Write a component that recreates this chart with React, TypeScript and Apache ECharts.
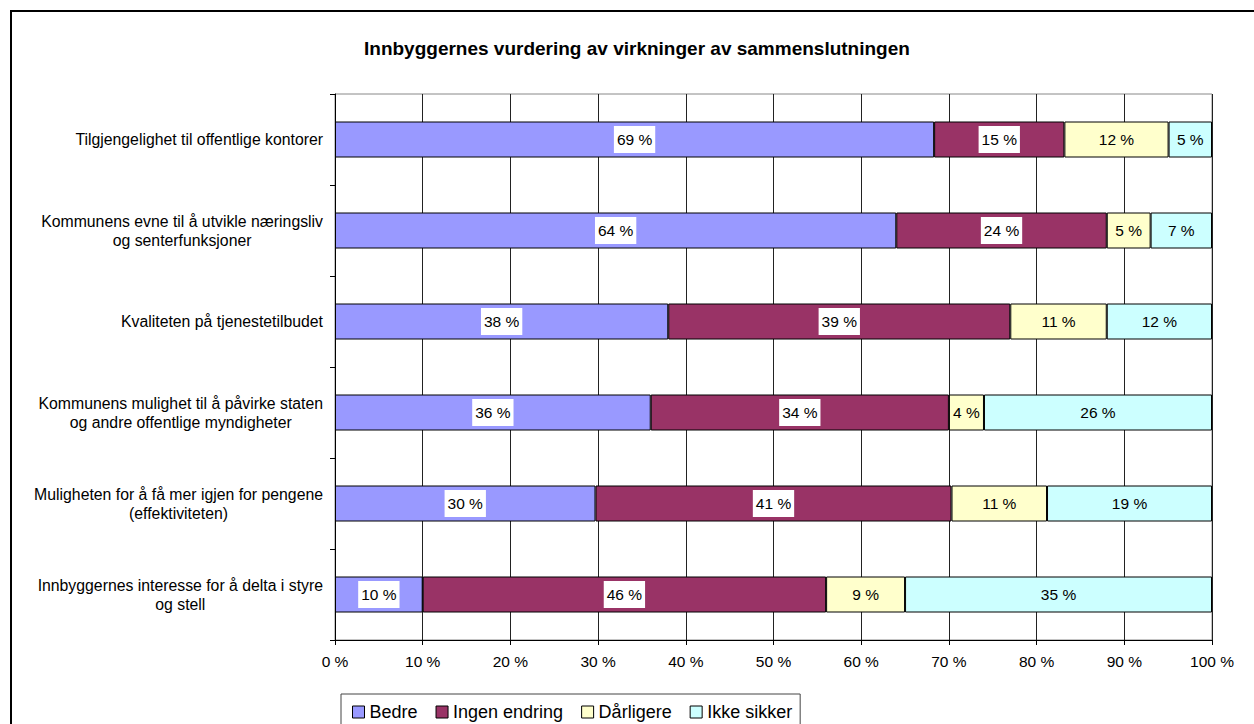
import React, { useEffect, useRef } from "react";
import * as echarts from "echarts";

const categories = [
  "Tilgjengelighet til offentlige kontorer",
  "Kommunens evne til å utvikle næringsliv\nog senterfunksjoner",
  "Kvaliteten på tjenestetilbudet",
  "Kommunens mulighet til å påvirke staten\nog andre offentlige myndigheter",
  "Muligheten for å få mer igjen for pengene\n(effektiviteten)",
  "Innbyggernes interesse for å delta i styre\nog stell",
];

const seriesNames = ["Bedre", "Ingen endring", "Dårligere", "Ikke sikker"];
const bedre = [69, 64, 38, 36, 30, 10];
const ingenEndring = [15, 24, 39, 34, 41, 46];
const darligere = [12, 5, 11, 4, 11, 9];
const ikkeSikker = [5, 7, 12, 26, 19, 35];
const colors = ["#9999FF", "#993366", "#FFFFCC", "#CCFFFF"];
const labelBoxed = [true, true, false, false];

const FONT = "'Liberation Sans', Arial, Helvetica, sans-serif";

export default function App() {
  const ref = useRef<HTMLDivElement>(null);

  useEffect(() => {
    if (!ref.current) return;
    const chart = echarts.init(ref.current, null, { renderer: "svg" });
    const raw = [bedre, ingenEndring, darligere, ikkeSikker];
    const totals = categories.map((_, i) => raw.reduce((s, arr) => s + arr[i], 0));

    const series = raw.map((arr, si) => ({
      name: seriesNames[si],
      type: "bar",
      stack: "total",
      barWidth: 36,
      itemStyle: { color: colors[si], borderColor: "#000", borderWidth: 1 },
      label: {
        show: true,
        position: "inside",
        color: "#000",
        fontFamily: FONT,
        fontSize: 15.5,
        lineHeight: 18,
        backgroundColor: labelBoxed[si] ? "#fff" : "transparent",
        padding: labelBoxed[si] ? [5, 3, 4, 3] : 0,
        formatter: (p: any) => `${p.data.raw} %`,
      },
      emphasis: { disabled: true },
      data: arr.map((v, i) => ({ value: (v / totals[i]) * 100, raw: v })),
    }));

    chart.setOption({
      animation: false,
      backgroundColor: "#fff",
      title: {
        text: "Innbyggernes vurdering av virkninger av sammenslutningen",
        left: 364,
        top: 39,
        padding: 0,
        textStyle: { fontFamily: FONT, fontSize: 19, fontWeight: "bold", color: "#000" },
      },
      graphic: [
        {
          type: "rect",
          shape: { x: 11, y: 11, width: 1300, height: 800 },
          style: { fill: "none", stroke: "#000", lineWidth: 2 },
          silent: true,
        },
      ],
      legend: {
        left: 341,
        top: 694,
        orient: "horizontal",
        padding: [8, 8, 8, 11],
        itemGap: 18,
        itemWidth: 12,
        itemHeight: 12,
        icon: "rect",
        borderColor: "#444",
        borderWidth: 1,
        textStyle: { fontFamily: FONT, fontSize: 18, color: "#000", lineHeight: 20 },
        itemStyle: { borderColor: "#000", borderWidth: 1 },
        data: seriesNames,
      },
      grid: {
        left: 335,
        right: 42,
        top: 94,
        bottom: 84,
        show: true,
        borderColor: "#888",
        borderWidth: 1,
      },
      xAxis: {
        type: "value",
        min: 0,
        max: 100,
        interval: 10,
        axisLine: { show: true, lineStyle: { color: "#000", width: 1 } },
        axisTick: { show: true, length: 5, lineStyle: { color: "#000" } },
        axisLabel: {
          formatter: "{value} %",
          color: "#000",
          fontFamily: FONT,
          fontSize: 15.5,
          margin: 13,
        },
        splitLine: { show: true, lineStyle: { color: "#222", width: 1 } },
      },
      yAxis: {
        type: "category",
        inverse: true,
        data: categories,
        axisLine: { show: true, lineStyle: { color: "#000", width: 1 } },
        axisTick: { show: true, length: 5, lineStyle: { color: "#000" } },
        axisLabel: {
          color: "#000",
          margin: 12,
          fontFamily: FONT,
          fontSize: 15.8,
          formatter: (v: string) =>
            v
              .split("\n")
              .map((l) => `{c|${l}}`)
              .join("\n"),
          rich: {
            c: { align: "center", fontFamily: FONT, fontSize: 15.8, lineHeight: 19, color: "#000" },
          },
        },
        splitLine: { show: false },
      },
      series,
    });

    return () => chart.dispose();
  }, []);

  return (
    <div
      ref={ref}
      style={{ position: "absolute", left: 0, top: 0, width: 1254, height: 724 }}
    />
  );
}
